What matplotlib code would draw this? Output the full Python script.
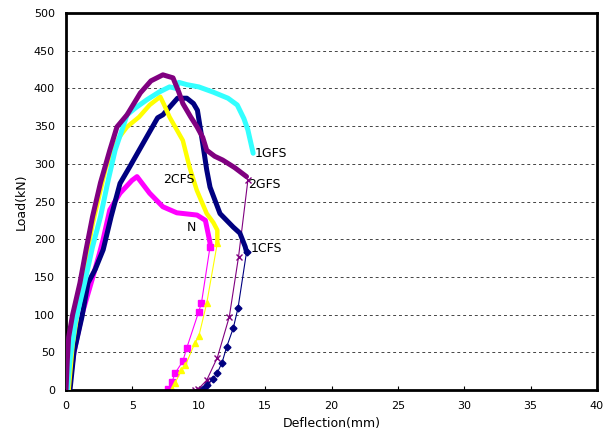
import matplotlib
matplotlib.use("Agg")
import matplotlib.pyplot as plt

# ---- data (Deflection mm, Load kN) ----
gfs1_x = [0.1, 0.3, 0.7, 1.4, 2.0, 2.6, 3.2, 3.7, 4.6, 5.3, 6.1, 7.0, 7.8, 8.3, 8.5, 9.1, 10.0, 11.1, 12.2, 12.9, 13.4, 13.7, 14.1]
gfs1_y = [0, 40, 90, 142, 190, 230, 280, 318, 365, 375, 385, 395, 402, 400, 408, 405, 402, 395, 387, 378, 360, 345, 314]

gfs2_x = [0.0, 0.1, 0.2, 0.5, 1.05, 1.5, 2.0, 2.6, 3.3, 3.84, 4.6, 5.6, 6.4, 7.3, 8.06, 8.5, 8.8, 9.4, 9.87, 10.3, 10.6, 11.2, 11.8, 12.7, 13.6]
gfs2_y = [0, 40, 70, 100, 142, 185, 230, 275, 318, 349, 365, 394, 410, 418, 414, 395, 380, 362, 349, 335, 318, 310, 305, 295, 283]
gfs2_ux = [13.7, 13.0, 12.3, 11.4, 10.6, 9.95, 9.7]
gfs2_uy = [278, 177, 97, 43, 13, 1, 0]

cfs2_x = [0.2, 0.5, 1.2, 2.0, 3.0, 4.0, 4.6, 5.5, 6.3, 7.1, 7.4, 7.8, 8.8, 9.3, 9.85, 10.6, 11.1, 11.4, 11.4]
cfs2_y = [0, 60, 140, 220, 295, 335, 349, 362, 378, 389, 378, 362, 331, 296, 265, 234, 222, 212, 195]
cfs2_ux = [11.4, 10.6, 10.0, 9.7, 9.0, 8.7, 8.2, 8.0]
cfs2_uy = [195, 115, 71, 62, 33, 26, 9, 1]

cfs1_x = [0.3, 0.6, 1.2, 1.66, 2.2, 2.8, 3.4, 4.07, 4.8, 5.8, 6.9, 7.3, 7.8, 8.4, 9.1, 9.6, 9.9, 10.3, 10.6, 10.85, 11.6, 12.6, 13.1, 13.5, 13.6]
cfs1_y = [0, 50, 97, 142, 160, 186, 230, 274, 296, 327, 361, 365, 375, 387, 387, 380, 371, 327, 292, 269, 234, 216, 208, 190, 183]
cfs1_ux = [13.6, 12.96, 12.6, 12.1, 11.75, 11.4, 11.05, 10.6, 10.3]
cfs1_uy = [183, 109, 82, 57, 36, 23, 14, 7, 1]

n_x = [0.2, 0.6, 1.2, 1.96, 2.5, 2.8, 3.3, 4.07, 4.97, 5.35, 6.3, 7.3, 8.35, 9.87, 10.5, 10.7, 10.85, 10.85]
n_y = [0, 50, 100, 146, 180, 200, 239, 261, 278, 283, 261, 243, 235, 232, 225, 208, 195, 190]
n_ux = [10.85, 10.2, 10.0, 9.1, 8.8, 8.2, 8.0, 7.7]
n_uy = [190, 115, 104, 56, 38, 22, 11, 1]

labels = ["1GFS", "2GFS", "2CFS", "N", "1CFS"]
label_x = [14.2, 13.7, 7.3, 9.1, 13.9]
label_y = [314, 272, 279, 216, 188]

x_ticks = [0, 5, 10, 15, 20, 25, 30, 35, 40]
y_ticks = [0, 50, 100, 150, 200, 250, 300, 350, 400, 450, 500]

plt.rcParams['font.family'] = ['DejaVu Sans']
fig = plt.figure(figsize=(6.12, 4.34), dpi=100)
ax = fig.add_axes([66/612, 44/434, 531/612, 377/434])

c_cyan = '#33FFFF'
c_purple = '#800080'
c_yellow = '#FFFF00'
c_navy = '#000080'
c_mag = '#FF00FF'

for y in y_ticks[1:-1]:
    ax.axhline(y, color='#444444', lw=0.7, ls=(0, (3, 3)), zorder=0)

# unloading branches
ax.plot(n_ux, n_uy, color=c_mag, lw=0.8, marker='s', ms=5, zorder=2)
ax.plot(cfs2_ux, cfs2_uy, color=c_yellow, lw=0.8, marker='^', ms=5, zorder=2)
ax.plot(gfs2_ux, gfs2_uy, color=c_purple, lw=0.8, marker='x', ms=4, zorder=2)
ax.plot(cfs1_ux, cfs1_uy, color=c_navy, lw=0.8, marker='D', ms=3.5, zorder=2)

# loading branches
ax.plot(n_x, n_y, color=c_mag, lw=3.6, solid_capstyle='round', solid_joinstyle='round', zorder=3)
ax.plot(cfs1_x, cfs1_y, color=c_navy, lw=3.6, solid_capstyle='round', solid_joinstyle='round', zorder=3)
ax.plot(cfs2_x, cfs2_y, color=c_yellow, lw=3.2, solid_capstyle='round', solid_joinstyle='round', zorder=4)
ax.plot(gfs1_x, gfs1_y, color=c_cyan, lw=3.6, solid_capstyle='round', solid_joinstyle='round', zorder=4)
ax.plot(gfs2_x, gfs2_y, color=c_purple, lw=3.6, solid_capstyle='round', solid_joinstyle='round', zorder=5)

for t, x, y in zip(labels, label_x, label_y):
    ax.text(x, y, t, fontsize=9, ha='left', va='center', zorder=6)

ax.set_xlim(0, 40)
ax.set_ylim(0, 500)
ax.set_xticks(x_ticks)
ax.set_yticks(y_ticks)
ax.tick_params(axis='x', direction='in', length=3, labelsize=8, pad=8)
ax.tick_params(axis='y', length=0, labelsize=8, pad=8)
for s in ax.spines.values():
    s.set_linewidth(2)
ax.set_xlabel('Deflection(mm)', fontsize=9, labelpad=4)
ax.set_ylabel('Load(kN)', fontsize=9, labelpad=4)

fig.savefig('out.png', dpi=100)
